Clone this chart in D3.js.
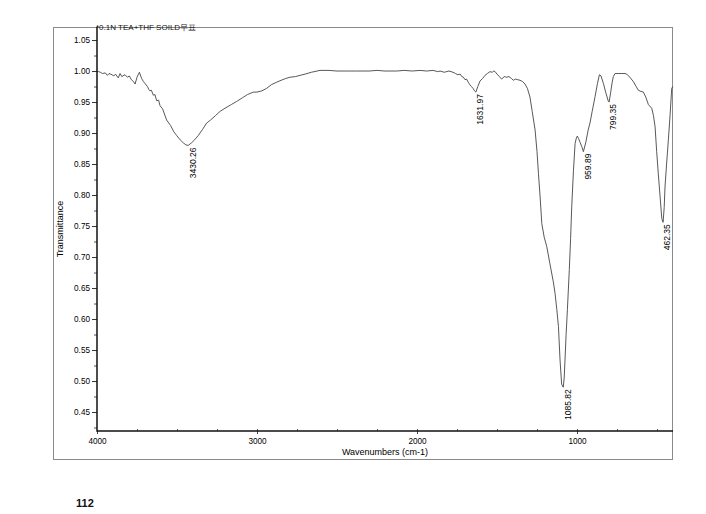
<!DOCTYPE html>
<html>
<head>
<meta charset="utf-8">
<script src="https://cdn.jsdelivr.net/npm/d3@7"></script>
<style>
  html, body { margin: 0; padding: 0; background: #fff; }
  svg { display: block; }
  text { font-family: "Liberation Sans", Arial, sans-serif; }
</style>
</head>
<body>
<svg id="chart" width="706" height="514"></svg>
<script>
// ---- data ----
const wavenumbers = [
  4000,3990,3979,3965,3948,3935,3925,3906,3895,3885,3867,3856,3845,3825,3810,3798,3785,3772,3762,3750,
  3735,3721,3710,3700,3685,3675,3669,3660,3648,3638,3627,3615,3606,3590,3565,3540,3520,3502,3480,3460,
  3445,3430,3410,3390,3367,3340,3315,3290,3260,3230,3200,3160,3127,3090,3060,3023,3000,2970,2940,2910,
  2877,2850,2820,2794,2760,2731,2700,2660,2606,2550,2500,2439,2380,2300,2250,2200,2127,2080,2030,1981,
  1940,1900,1870,1856,1830,1800,1775,1760,1745,1730,1720,1710,1700,1690,1680,1670,1660,1650,1640,1632,
  1620,1606,1590,1575,1560,1544,1530,1520,1512,1500,1485,1471,1455,1440,1425,1410,1398,1385,1370,1356,
  1340,1325,1310,1294,1280,1262,1250,1241,1230,1220,1205,1189,1170,1148,1137,1126,1116,1106,1096,1086,
  1080,1075,1068,1060,1048,1040,1033,1022,1012,1004,998,990,981,970,960,945,930,919,905,887,
  872,860,850,835,820,804,799,790,780,773,762,740,720,700,689,670,648,630,617,600,
  585,570,554,540,533,522,512,502,492,480,470,462,455,450,440,429,418,408,401
];
const transmittance = [
  1.000,0.999,0.998,0.996,0.997,0.993,0.996,0.994,0.992,0.995,0.989,0.996,0.991,0.994,0.990,0.992,0.986,0.983,0.979,0.990,
  0.998,0.988,0.983,0.980,0.975,0.970,0.968,0.969,0.961,0.962,0.952,0.953,0.944,0.939,0.921,0.912,0.902,0.896,0.889,0.884,
  0.881,0.880,0.884,0.889,0.896,0.906,0.916,0.921,0.928,0.935,0.940,0.946,0.951,0.957,0.962,0.966,0.966,0.968,0.972,0.978,
  0.982,0.985,0.988,0.990,0.991,0.993,0.995,0.998,1.001,1.001,1.000,1.000,1.000,1.000,1.001,1.000,1.000,1.001,1.000,1.001,
  1.000,1.001,0.999,1.000,0.998,1.000,0.998,0.996,0.994,0.995,0.991,0.990,0.986,0.987,0.982,0.978,0.975,0.972,0.968,0.966,
  0.975,0.984,0.988,0.993,0.996,0.999,0.998,1.000,0.999,0.995,0.991,0.987,0.991,0.990,0.991,0.988,0.985,0.987,0.986,0.985,
  0.983,0.979,0.972,0.958,0.935,0.905,0.870,0.835,0.795,0.754,0.732,0.717,0.690,0.660,0.641,0.615,0.588,0.534,0.495,0.490,
  0.505,0.534,0.575,0.615,0.680,0.730,0.781,0.840,0.883,0.892,0.895,0.891,0.885,0.878,0.870,0.885,0.905,0.916,0.935,0.959,
  0.980,0.994,0.992,0.980,0.965,0.951,0.950,0.965,0.982,0.991,0.996,0.996,0.996,0.996,0.995,0.990,0.983,0.975,0.969,0.967,
  0.966,0.958,0.946,0.942,0.940,0.928,0.910,0.870,0.835,0.795,0.762,0.756,0.780,0.813,0.850,0.889,0.930,0.972,0.975
];
const peakLabels = ["3430.26","1631.97","1085.82","959.89","799.35","462.35"];
const peakWavenumbers = [3430, 1632, 1086, 960, 799, 462];
const xTickValues = [4000, 3000, 2000, 1000];
const xMinorTickValues = d3.range(3750, 400, -250);
const yTickValues = [0.45,0.50,0.55,0.60,0.65,0.70,0.75,0.80,0.85,0.90,0.95,1.00,1.05];
const yMinorTickValues = [0.425,0.475,0.525,0.575,0.625,0.675,0.725,0.775,0.825,0.875,0.925,0.975,1.025];
const titleText = "*0.1N TEA+THF SOILD무표";
const xTitle = "Wavenumbers (cm-1)";
const yTitle = "Transmittance";
const pageNumber = "112";

// ---- layout ----
const plot = { left: 97, right: 673, top: 27, bottom: 431 };
const svg = d3.select("#chart");

const x = d3.scaleLinear().domain([4000, 400]).range([plot.left, plot.right]);
const y = d3.scaleLinear().domain([0.4194, 1.071]).range([plot.bottom, plot.top]);

// outer frame
svg.append("rect")
  .attr("x", 53.5).attr("y", 27.5)
  .attr("width", 619).attr("height", 432)
  .attr("fill", "none").attr("stroke", "#8a8a8a").attr("stroke-width", 1);

// spectrum
const pts = wavenumbers.map((w, i) => [w, transmittance[i]]);
svg.append("path")
  .datum(pts)
  .attr("fill", "none")
  .attr("stroke", "#3a3a3a")
  .attr("stroke-width", 0.85)
  .attr("stroke-linejoin", "round")
  .attr("d", d3.line().x(d => x(d[0])).y(d => y(d[1])));

// y axis
const yAxis = svg.append("g")
  .attr("transform", `translate(${plot.left},0)`)
  .call(d3.axisLeft(y).tickValues(yTickValues).tickSize(5).tickPadding(2).tickFormat(d3.format(".2f")));
yAxis.select(".domain").remove();
yAxis.selectAll("text").attr("font-size", 8.2).attr("fill", "#000")
  .attr("font-family", "'Liberation Sans', Arial, sans-serif");
yAxis.selectAll("line").attr("stroke", "#333");
const yMinor = svg.append("g")
  .attr("transform", `translate(${plot.left},0)`)
  .call(d3.axisLeft(y).tickValues(yMinorTickValues).tickSize(3).tickFormat(""));
yMinor.select(".domain").remove();
yMinor.selectAll("line").attr("stroke", "#555");

// x axis
const xAxis = svg.append("g")
  .attr("transform", `translate(0,${plot.bottom})`)
  .call(d3.axisBottom(x).tickValues(xTickValues).tickSize(3).tickPadding(4).tickFormat(d3.format("d")));
xAxis.select(".domain").remove();
xAxis.selectAll("text").attr("font-size", 8.2).attr("fill", "#000")
  .attr("font-family", "'Liberation Sans', Arial, sans-serif");
xAxis.selectAll("line").attr("stroke", "#444");
const xMinor = svg.append("g")
  .attr("transform", `translate(0,${plot.bottom})`)
  .call(d3.axisTop(x).tickValues(xMinorTickValues).tickSize(2).tickFormat(""));
xMinor.select(".domain").remove();
xMinor.selectAll("line").attr("stroke", "#666");

// axis lines (black)
svg.append("line")
  .attr("x1", plot.left).attr("x2", plot.left)
  .attr("y1", plot.top).attr("y2", plot.bottom + 0.8)
  .attr("stroke", "#111").attr("stroke-width", 1.5);
svg.append("line")
  .attr("x1", plot.left).attr("x2", plot.right)
  .attr("y1", plot.bottom).attr("y2", plot.bottom)
  .attr("stroke", "#111").attr("stroke-width", 1.5);

// peak labels
function valueAt(w) {
  let best = 0;
  for (let i = 1; i < wavenumbers.length; i++) {
    if (Math.abs(wavenumbers[i] - w) < Math.abs(wavenumbers[best] - w)) best = i;
  }
  return transmittance[best];
}
peakLabels.forEach((lab, i) => {
  const px = x(peakWavenumbers[i]) + 7.3;
  const py = y(valueAt(peakWavenumbers[i])) + 2;
  svg.append("text")
    .attr("transform", `translate(${px},${py}) rotate(-90)`)
    .attr("text-anchor", "end")
    .attr("font-size", 8.5)
    .attr("fill", "#000")
    .text(lab);
});

// title inside plot (top-left)
svg.append("text")
  .attr("x", plot.left - 1).attr("y", 30)
  .attr("font-size", 8)
  .attr("fill", "#111")
  .attr("font-family", "'Liberation Sans', 'Noto Sans CJK KR', Arial, sans-serif")
  .text(titleText);

// axis titles
svg.append("text")
  .attr("x", (plot.left + plot.right) / 2).attr("y", 455)
  .attr("text-anchor", "middle")
  .attr("font-size", 9)
  .attr("fill", "#000")
  .text(xTitle);
svg.append("text")
  .attr("transform", `translate(63,${(plot.top + plot.bottom) / 2}) rotate(-90)`)
  .attr("text-anchor", "middle")
  .attr("font-size", 9)
  .attr("fill", "#000")
  .text(yTitle);

// page number
svg.append("text")
  .attr("x", 76).attr("y", 507)
  .attr("font-size", 11)
  .attr("font-weight", "bold")
  .attr("fill", "#111")
  .text(pageNumber);
</script>
</body>
</html>
